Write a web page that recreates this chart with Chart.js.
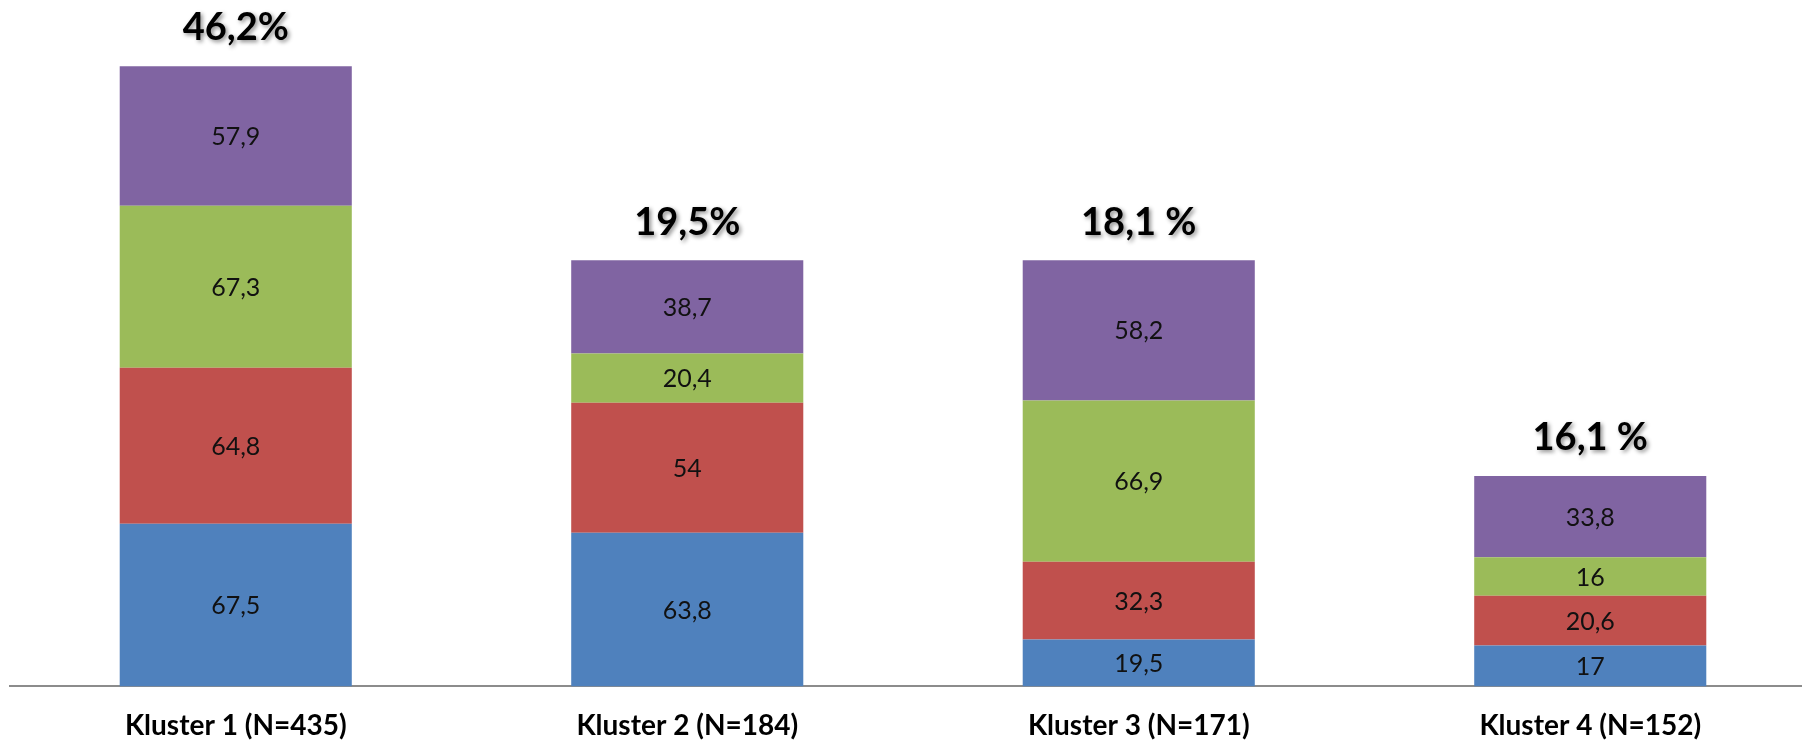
<!DOCTYPE html>
<html>
<head>
<meta charset="utf-8">
<script src="https://cdn.jsdelivr.net/npm/chart.js@4.4.1/dist/chart.umd.min.js"></script>
<style>
  html, body { margin: 0; padding: 0; background: #fff; overflow: hidden; }
</style>
</head>
<body>
<canvas id="chart" width="1816" height="766"></canvas>
<script>
  // categorias y valores
  const clusters = ['Kluster 1 (N=435)', 'Kluster 2 (N=184)', 'Kluster 3 (N=171)', 'Kluster 4 (N=152)'];
  const blueValues = [67.5, 63.8, 19.5, 17];
  const redValues = [64.8, 54, 32.3, 20.6];
  const greenValues = [67.3, 20.4, 66.9, 16];
  const purpleValues = [57.9, 38.7, 58.2, 33.8];
  const shareLabels = ['46,2%', '19,5%', '18,1 %', '16,1 %'];

  const fontFamily = 'Lato, "Noto Sans", sans-serif';

  // etiquetas dentro de cada segmento
  const segmentLabels = {
    id: 'segmentLabels',
    afterDatasetsDraw(chart) {
      const ctx = chart.ctx;
      ctx.save();
      ctx.font = '25px ' + fontFamily;
      ctx.fillStyle = '#111';
      ctx.textAlign = 'center';
      ctx.textBaseline = 'middle';
      chart.data.datasets.forEach((ds, i) => {
        const meta = chart.getDatasetMeta(i);
        meta.data.forEach((bar, j) => {
          const text = String(ds.data[j]).replace('.', ',');
          ctx.fillText(text, bar.x, (bar.y + bar.base) / 2 + 1);
        });
      });
      ctx.restore();
    }
  };

  // porcentajes encima de cada columna
  const shareTitles = {
    id: 'shareTitles',
    afterDatasetsDraw(chart) {
      const ctx = chart.ctx;
      const last = chart.getDatasetMeta(chart.data.datasets.length - 1);
      ctx.save();
      ctx.font = 'bold 38px ' + fontFamily;
      ctx.fillStyle = '#000';
      ctx.textAlign = 'center';
      ctx.textBaseline = 'middle';
      ctx.shadowColor = 'rgba(0,0,0,0.45)';
      ctx.shadowBlur = 4;
      ctx.shadowOffsetX = 2;
      ctx.shadowOffsetY = 2;
      last.data.forEach((bar, j) => {
        ctx.fillText(shareLabels[j], bar.x, bar.y - 38);
      });
      ctx.restore();
    }
  };

  const chart = new Chart(document.getElementById('chart').getContext('2d'), {
    type: 'bar',
    data: {
      labels: clusters,
      datasets: [
        { label: 'Serie 1', data: blueValues, backgroundColor: '#4F81BD' },
        { label: 'Serie 2', data: redValues, backgroundColor: '#C0504D' },
        { label: 'Serie 3', data: greenValues, backgroundColor: '#9BBB59' },
        { label: 'Serie 4', data: purpleValues, backgroundColor: '#8064A2' }
      ]
    },
    options: {
      responsive: false,
      animation: false,
      layout: { padding: { left: 10, right: 0, top: 0, bottom: 0 } },
      datasets: {
        bar: { barPercentage: 0.514, categoryPercentage: 1, borderWidth: 0 }
      },
      plugins: {
        legend: { display: false },
        tooltip: { enabled: false }
      },
      scales: {
        x: {
          stacked: true,
          grid: { display: false, drawTicks: false },
          border: { display: true, color: '#8c8c8c', width: 2 },
          ticks: {
            padding: 23,
            color: '#000',
            font: { family: fontFamily, size: 28, weight: 'bold' }
          }
        },
        y: {
          stacked: true,
          display: false,
          min: 0,
          max: 285
        }
      }
    },
    plugins: [segmentLabels, shareTitles]
  });
</script>
</body>
</html>
